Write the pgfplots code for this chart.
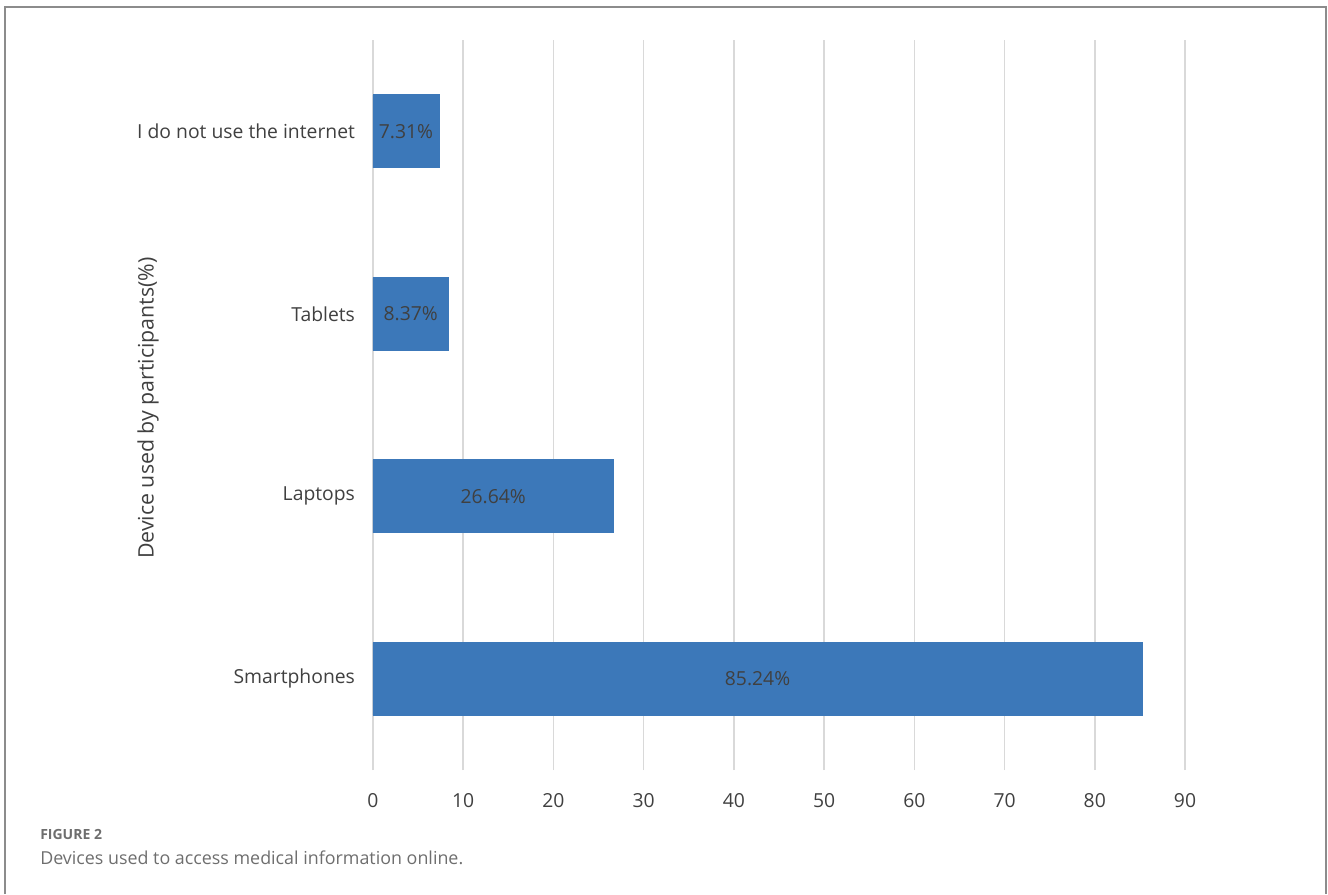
\documentclass[border=0pt]{standalone}
\usepackage{pgfplots}
\pgfplotsset{compat=1.18}
\usepackage{pgfplotstable}
\usepackage{fontspec}
\setmainfont{Open Sans}
\definecolor{barblue}{HTML}{3C78B9}
\definecolor{txt}{HTML}{404040}
\definecolor{gridc}{HTML}{D9D9D9}
\definecolor{framec}{HTML}{8C8C8C}
\definecolor{capc}{HTML}{6E6E6E}
\pgfplotstableread{
y v
0 85.24
1 26.64
2 8.37
3 7.31
}\devices
\begin{document}
\begin{tikzpicture}
\begin{axis}[
  name=ax,
  scale only axis, width=609pt, height=547.5pt,
  xmin=0, xmax=90, ymin=-0.5, ymax=3.5,
  xtick={0,10,...,90},
  ytick={0,1,2,3},
  yticklabels={Smartphones,Laptops,Tablets,I do not use the internet},
  axis line style={draw=none},
  major tick style={draw=none},
  xmajorgrids, grid style={gridc,line width=1.2pt},
  /pgf/number format/assume math mode=true,
  tick label style={font=\fontsize{14.5}{17}\selectfont, text=txt},
  xticklabel style={yshift=-14pt},
  yticklabel style={xshift=-10pt},
  clip=false,
]
\addplot[xbar, bar width=0.4, fill=barblue, draw=barblue] table[x=v,y=y] {\devices};
\addplot[only marks, mark=none, draw=none,
  nodes near coords={\pgfmathprintnumber[fixed,precision=2,fixed zerofill]{\pgfplotspointmeta}\%},
  nodes near coords style={anchor=center, font=\fontsize{14.5}{17}\selectfont, text=txt},
  point meta=\thisrow{v}] table[x expr=\thisrow{v}/2, y=y] {\devices};
\end{axis}
\begin{scope}[shift={(ax.south west)}, x=0.75pt, y=0.75pt, shift={(-373,-124)}]
\draw[framec,line width=1.5pt] (5,0) -- (5,887) -- (1326,887) -- (1326,0);
\node[rotate=90, text=txt, font=\fontsize{16}{19}\selectfont] at (148,486) {Device used by participants(\%)};
\node[anchor=base west, inner sep=0pt, text=capc, font=\fontsize{10.5}{13}\selectfont\bfseries] at (40,55) {FIGURE 2};
\node[anchor=base west, inner sep=0pt, text=capc, font=\fontsize{13.4}{17}\selectfont] at (40,30) {Devices used to access medical information online.};
\pgfresetboundingbox
\path[use as bounding box] (0,0) rectangle (1328,894);
\end{scope}
\end{tikzpicture}
\end{document}
